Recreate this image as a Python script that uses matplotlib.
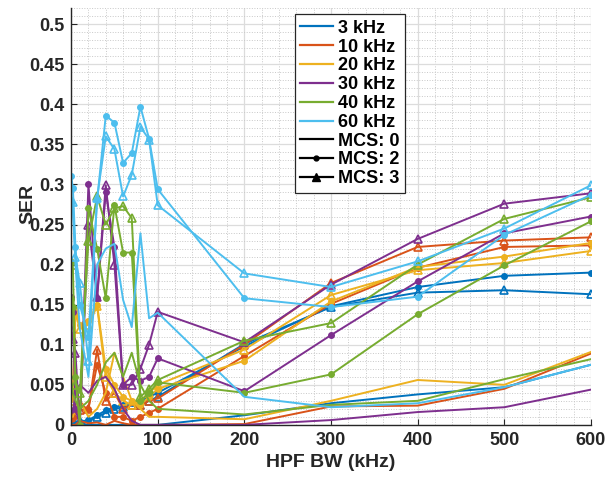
import numpy as np
import matplotlib
matplotlib.use("Agg")
import matplotlib.pyplot as plt
from matplotlib.lines import Line2D
from matplotlib.ticker import MultipleLocator, FuncFormatter

plt.rcParams['font.family'] = ['Liberation Sans', 'DejaVu Sans']
plt.rcParams['font.weight'] = 'bold'

# HPF bandwidth sweep (kHz)
hpf_bw = [0, 2, 5, 10, 20, 30, 40, 50, 60, 70, 80, 90, 100, 200, 300, 400, 500, 600]

tone_labels = ['3 kHz', '10 kHz', '20 kHz', '30 kHz', '40 kHz', '60 kHz']
tone_colors = ['#0072BD', '#D95319', '#EDB120', '#7E2F8E', '#77AC30', '#4DBEEE']
mcs_labels = ['MCS: 0', 'MCS: 2', 'MCS: 3']

# symbol error rate, one row per MCS (0, 2, 3) for each tone
ser_3k = [
    [0.0, 0.0, 0.0, 0.0, 0.0, 0.0, 0.0, 0.0, 0.0, 0.0, 0.0, 0.0, 0.0, 0.012, 0.027, 0.038, 0.047, 0.075],
    [0.0, 0.0, 0.001, 0.003, 0.006, 0.012, 0.018, 0.022, 0.025, 0.027, 0.03, 0.035, 0.04, 0.098, 0.148, 0.172, 0.186, 0.19],
    [0.0, 0.0, 0.002, 0.005, 0.005, 0.01, 0.015, 0.02, 0.022, 0.025, 0.025, 0.03, 0.035, 0.101, 0.147, 0.165, 0.168, 0.163],
]
ser_10k = [
    [0.0, 0.0, 0.0, 0.005, 0.002, 0.003, 0.0, 0.005, 0.002, 0.0, 0.0, 0.0, 0.0, 0.001, 0.023, 0.024, 0.045, 0.089],
    [0.007, 0.01, 0.02, 0.025, 0.02, 0.075, 0.04, 0.01, 0.01, 0.005, 0.01, 0.015, 0.02, 0.086, 0.151, 0.196, 0.222, 0.224],
    [0.01, 0.012, 0.02, 0.018, 0.02, 0.094, 0.03, 0.04, 0.02, 0.025, 0.025, 0.03, 0.033, 0.1, 0.177, 0.222, 0.23, 0.234],
]
ser_20k = [
    [0.01, 0.01, 0.02, 0.03, 0.01, 0.02, 0.04, 0.09, 0.06, 0.03, 0.02, 0.01, 0.01, 0.007, 0.03, 0.056, 0.05, 0.091],
    [0.048, 0.04, 0.145, 0.125, 0.13, 0.15, 0.07, 0.05, 0.035, 0.03, 0.025, 0.035, 0.045, 0.08, 0.154, 0.197, 0.21, 0.227],
    [0.033, 0.03, 0.14, 0.12, 0.125, 0.148, 0.06, 0.04, 0.03, 0.025, 0.03, 0.04, 0.05, 0.094, 0.162, 0.193, 0.202, 0.217],
]
ser_30k = [
    [0.02, 0.015, 0.04, 0.05, 0.04, 0.055, 0.06, 0.045, 0.02, 0.005, 0.0, 0.0, 0.0, 0.0, 0.006, 0.016, 0.022, 0.044],
    [0.16, 0.141, 0.02, 0.0, 0.3, 0.158, 0.29, 0.222, 0.05, 0.06, 0.055, 0.06, 0.083, 0.042, 0.112, 0.179, 0.239, 0.26],
    [0.12, 0.107, 0.09, 0.0, 0.25, 0.16, 0.299, 0.2, 0.05, 0.05, 0.07, 0.1, 0.141, 0.103, 0.175, 0.232, 0.276, 0.289],
]
ser_40k = [
    [0.055, 0.04, 0.03, 0.02, 0.03, 0.05, 0.078, 0.09, 0.06, 0.09, 0.05, 0.03, 0.02, 0.013, 0.025, 0.03, 0.057, 0.082],
    [0.157, 0.147, 0.06, 0.0, 0.27, 0.22, 0.158, 0.274, 0.215, 0.215, 0.03, 0.04, 0.053, 0.04, 0.063, 0.138, 0.199, 0.254],
    [0.206, 0.2, 0.05, 0.04, 0.23, 0.285, 0.25, 0.27, 0.273, 0.258, 0.035, 0.045, 0.056, 0.105, 0.127, 0.2, 0.257, 0.284],
]
ser_60k = [
    [0.28, 0.27, 0.2, 0.12, 0.06, 0.2, 0.22, 0.226, 0.156, 0.122, 0.239, 0.133, 0.14, 0.035, 0.022, 0.027, 0.047, 0.075],
    [0.311, 0.296, 0.222, 0.15, 0.11, 0.28, 0.386, 0.377, 0.327, 0.339, 0.397, 0.357, 0.294, 0.158, 0.147, 0.16, 0.237, 0.287],
    [0.281, 0.278, 0.21, 0.177, 0.08, 0.283, 0.36, 0.344, 0.285, 0.312, 0.372, 0.356, 0.274, 0.189, 0.172, 0.204, 0.245, 0.299],
]
ser_all = [ser_3k, ser_10k, ser_20k, ser_30k, ser_40k, ser_60k]

mcs_styles = [
    dict(marker=None),
    dict(marker='o', markersize=4),
    dict(marker='^', markersize=6, markerfacecolor='none', markeredgewidth=1.2),
]

fig = plt.figure(figsize=(6.13, 4.79), dpi=100)
ax = fig.add_axes([0.116, 0.113, 0.848, 0.870])

for color, ser in zip(tone_colors, ser_all):
    for k in range(3):
        ax.plot(hpf_bw, ser[k], color=color, linewidth=1.4, **mcs_styles[k])

ax.set_xlim(0, 600)
ax.set_ylim(0, 0.52)
ax.xaxis.set_major_locator(MultipleLocator(100))
ax.xaxis.set_minor_locator(MultipleLocator(20))
ax.yaxis.set_major_locator(MultipleLocator(0.05))
ax.yaxis.set_minor_locator(MultipleLocator(0.01))
ax.yaxis.set_major_formatter(FuncFormatter(lambda v, p: '%g' % round(v, 3)))

ax.grid(which='major', color='#dcdcdc', linewidth=0.9)
ax.grid(which='minor', color='#c8c8c8', linestyle=':', linewidth=0.7)
ax.set_axisbelow(True)

for s in ['top', 'right']:
    ax.spines[s].set_visible(False)
for s in ['left', 'bottom']:
    ax.spines[s].set_color('#262626')
    ax.spines[s].set_linewidth(1.0)
ax.tick_params(which='both', direction='in', colors='#262626', labelsize=13)
ax.tick_params(which='major', length=4, pad=5)
ax.tick_params(which='minor', length=0)
for lab in ax.get_xticklabels() + ax.get_yticklabels():
    lab.set_fontweight('bold')

ax.set_xlabel('HPF BW (kHz)', fontsize=14, fontweight='bold', color='#262626')
ax.set_ylabel('SER', fontsize=14, fontweight='bold', color='#262626')
ax.yaxis.set_label_coords(-0.067, 0.53)

handles = [Line2D([0], [0], color=c, linewidth=1.6) for c in tone_colors]
handles += [
    Line2D([0], [0], color='black', linewidth=1.6),
    Line2D([0], [0], color='black', linewidth=1.6, marker='o', markersize=3.5),
    Line2D([0], [0], color='black', linewidth=1.6, marker='^', markersize=6),
]
leg = ax.legend(handles, tone_labels + mcs_labels, loc='upper left',
                bbox_to_anchor=(0.43, 0.985), frameon=True, fancybox=False,
                framealpha=1, edgecolor='#262626', handlelength=1.8,
                handletextpad=0.3, labelspacing=0.1, borderpad=0.3,
                borderaxespad=0.0, prop=dict(weight='bold', size=13))
leg.get_frame().set_linewidth(0.9)

fig.savefig('out.png', dpi=100)
